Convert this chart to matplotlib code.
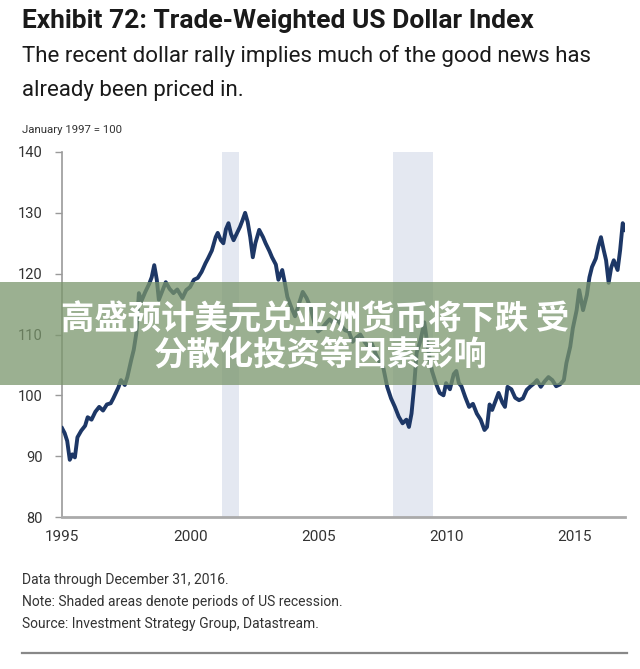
import matplotlib
matplotlib.use("Agg")
import matplotlib.pyplot as plt
from matplotlib.patches import Rectangle
from matplotlib.lines import Line2D

# trade-weighted dollar index (decimal year, value)
years = [
    1995.0, 1995.1, 1995.2, 1995.3, 1995.4, 1995.5, 1995.6, 1995.75, 1995.9,
    1996.0, 1996.15, 1996.3, 1996.45, 1996.6, 1996.75, 1996.9,
    1997.0, 1997.1, 1997.2, 1997.3, 1997.45, 1997.55, 1997.7, 1997.8, 1997.9,
    1998.0, 1998.1, 1998.25, 1998.4, 1998.5, 1998.6, 1998.7, 1998.78, 1998.9,
    1999.05, 1999.2, 1999.35, 1999.5, 1999.7, 1999.85,
    2000.0, 2000.15, 2000.3, 2000.45, 2000.6, 2000.7, 2000.85,
    2001.0, 2001.08, 2001.2, 2001.3, 2001.4, 2001.5, 2001.6, 2001.7, 2001.85, 2001.95,
    2002.05, 2002.15, 2002.25, 2002.35, 2002.45, 2002.55, 2002.7, 2002.85, 2002.95,
    2003.1, 2003.2, 2003.35, 2003.45, 2003.6, 2003.7, 2003.8, 2003.95,
    2004.1, 2004.25, 2004.4, 2004.55, 2004.7, 2004.85,
    2005.0, 2005.15, 2005.3, 2005.45, 2005.6, 2005.75, 2005.9,
    2006.05, 2006.2, 2006.35, 2006.5, 2006.65, 2006.8, 2006.95,
    2007.1, 2007.25, 2007.4, 2007.55, 2007.7, 2007.85,
    2008.0, 2008.15, 2008.3, 2008.45, 2008.55, 2008.65, 2008.75, 2008.85,
    2009.0, 2009.15, 2009.3, 2009.45, 2009.6, 2009.75, 2009.9,
    2010.0, 2010.15, 2010.3, 2010.4, 2010.5, 2010.6, 2010.75, 2010.9,
    2011.05, 2011.2, 2011.35, 2011.5, 2011.6, 2011.7, 2011.8, 2011.9,
    2012.05, 2012.2, 2012.3, 2012.4, 2012.55, 2012.7, 2012.85,
    2013.0, 2013.15, 2013.3, 2013.45, 2013.55, 2013.7, 2013.85,
    2014.0, 2014.15, 2014.3, 2014.45, 2014.6, 2014.7, 2014.85, 2014.95,
    2015.1, 2015.2, 2015.35, 2015.5, 2015.6, 2015.7, 2015.85, 2015.95,
    2016.05, 2016.15, 2016.25, 2016.35, 2016.45, 2016.55, 2016.7, 2016.8, 2016.9, 2017.0,
]
index_values = [
    94.6, 93.8, 92.5, 89.4, 90.3, 89.8, 93.1, 94.2, 95.0,
    96.4, 96.0, 97.3, 98.1, 97.5, 98.5, 98.7,
    99.5, 100.4, 101.3, 102.5, 101.7, 103.0, 105.8, 107.5, 110.2,
    116.8, 115.5, 117.0, 118.3, 119.4, 121.4, 119.0, 115.7, 117.0,
    118.6, 117.5, 116.8, 117.4, 116.0, 117.3,
    117.8, 119.0, 119.3, 120.3, 121.7, 122.5, 123.8,
    126.0, 126.7, 125.5, 125.0, 127.3, 128.3, 126.5, 125.5, 126.8, 127.7,
    128.8, 130.0, 128.5, 126.0, 122.7, 125.0, 127.2, 126.0, 125.0,
    123.7, 122.7, 121.5, 119.0, 120.6, 118.5, 116.2, 114.5,
    113.0, 115.0, 117.0, 116.0, 114.5, 112.0,
    110.5, 111.0, 111.8, 112.5, 111.9, 112.5, 111.5,
    110.7, 110.5, 108.8, 109.5, 110.0, 108.9, 108.0,
    108.5, 106.8, 105.5, 104.5, 101.4, 99.5,
    98.1, 96.5, 95.4, 96.0, 94.8, 97.0, 101.4, 107.0,
    109.0, 112.0, 107.5, 104.0, 102.0, 100.4, 100.0,
    102.0, 101.0, 103.5, 104.0, 102.0, 101.5, 99.7, 98.1,
    98.6, 97.0, 96.0, 94.3, 94.8, 98.5, 97.6, 98.7,
    100.4, 98.8, 98.1, 101.4, 101.0, 99.6, 99.2,
    99.5, 100.9, 101.5, 102.0, 102.5, 101.4, 102.3,
    103.0, 102.5, 101.5, 101.8, 102.5, 105.3, 108.0, 111.0,
    114.0, 117.3, 114.0, 116.5, 119.4, 121.1, 122.5, 124.5,
    126.0, 124.0, 122.2, 118.5, 121.0, 122.2, 120.6, 123.9, 128.3, 127.2,
]

# US recessions (start, end)
recessions = [(2001.25, 2001.9), (2007.92, 2009.5)]

x_ticks = [1995, 2000, 2005, 2010, 2015]
y_ticks = [80, 90, 100, 110, 120, 130, 140]

title = "Exhibit 72: Trade-Weighted US Dollar Index"
subtitle = ["The recent dollar rally implies much of the good news has",
            "already been priced in."]
unit_note = "January 1997 = 100"
footnotes = ["Data through December 31, 2016.",
             "Note: Shaded areas denote periods of US recession.",
             "Source: Investment Strategy Group, Datastream."]
banner_lines = ["高盛预计美元兑亚洲货币将下跌 受", "分散化投资等因素影响"]

narrow = ["Roboto", "DejaVu Sans"]
line_color = "#1d3766"
grey = "#9a9a9a"

fig = plt.figure(figsize=(6.4, 6.69), dpi=100)
ax = fig.add_axes([0.097, 0.2272, 0.88, 0.5456])

for start, end in recessions:
    ax.axvspan(start, end, color="#e4e8f1", lw=0, zorder=0)

ax.plot(years, index_values, color=line_color, lw=2.8, solid_joinstyle="round", zorder=3)

ax.set_xlim(1995, 2017)
ax.set_ylim(80, 140)
ax.set_xticks(x_ticks)
ax.set_yticks(y_ticks)
ax.set_xticklabels([str(t) for t in x_ticks], family=narrow, fontsize=11, color="#333333")
ax.set_yticklabels([str(t) for t in y_ticks], family=narrow, fontsize=10.5, color="#333333")
ax.tick_params(axis="x", length=0, pad=9)
ax.tick_params(axis="y", length=5, width=1, color=grey, pad=9)

for side in ["top", "right"]:
    ax.spines[side].set_visible(False)
ax.spines["left"].set_color(grey)
ax.spines["left"].set_linewidth(1.2)
ax.spines["bottom"].set_color("#aaaaaa")
ax.spines["bottom"].set_linewidth(2)

# header text
fig.text(0.034, 0.969, title, family=narrow, weight="bold",
         fontsize=19, color="#1a1a1a", va="center")
fig.text(0.034, 0.916, subtitle[0], family=narrow, fontsize=16, color="#1a1a1a", va="center")
fig.text(0.034, 0.865, subtitle[1], family=narrow, fontsize=16, color="#1a1a1a", va="center")
fig.text(0.034, 0.806, unit_note, family=narrow, fontsize=8.2, color="#333333", va="center")

for i, note in enumerate(footnotes):
    fig.text(0.034, 0.133 - i * 0.033, note, family=narrow, fontsize=10,
             color="#333333", va="center")

fig.add_artist(Line2D([0.034, 0.98], [0.024, 0.024], color="#888888", lw=1.6,
                      transform=fig.transFigure))

# green banner overlaid on the chart
fig.add_artist(Rectangle((0, 0.4245), 1, 0.154, transform=fig.transFigure,
                         facecolor="#7a966c", alpha=0.75, lw=0, zorder=10))
fig.text(0.493, 0.522, banner_lines[0], family=["Noto Sans CJK SC", "DejaVu Sans"],
         weight="bold", fontsize=24, color="white", ha="center", va="center", zorder=11)
fig.text(0.502, 0.468, banner_lines[1], family=["Noto Sans CJK SC", "DejaVu Sans"],
         weight="bold", fontsize=24, color="white", ha="center", va="center", zorder=11)

fig.savefig("out.png", dpi=100, facecolor="white")
